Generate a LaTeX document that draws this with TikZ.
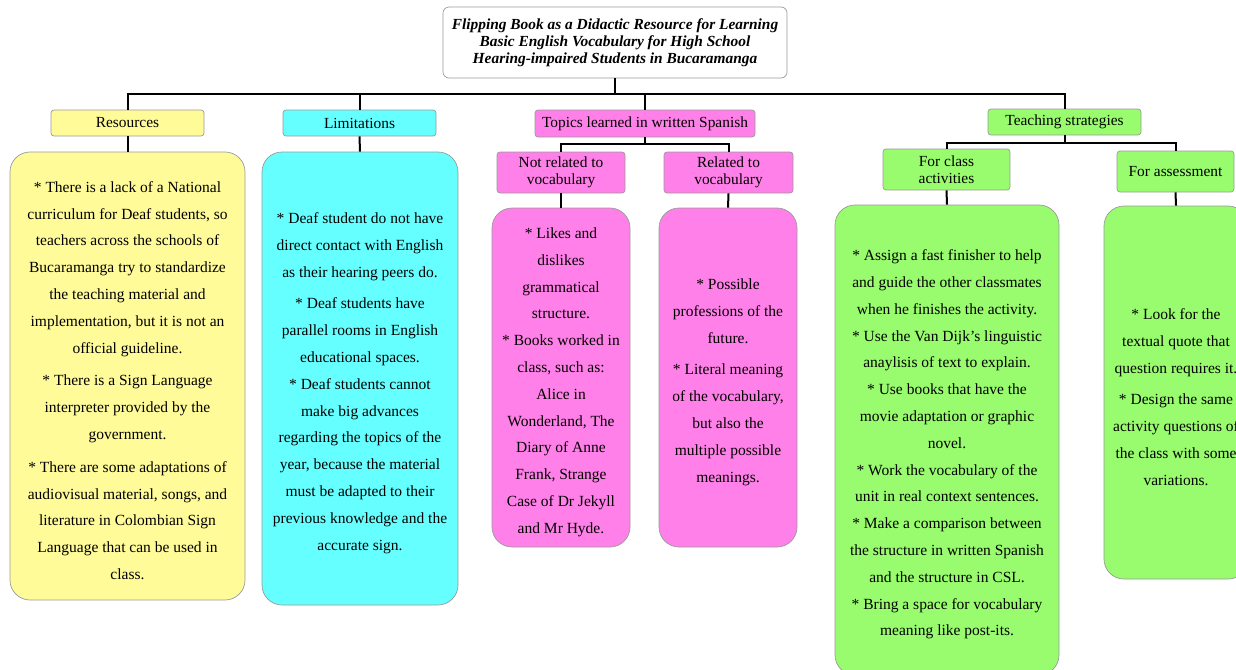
\documentclass[tikz,border=0pt]{standalone}
\usepackage{fontspec}
\setmainfont{Liberation Serif}
\definecolor{resfill}{HTML}{FFFB99}
\definecolor{limfill}{HTML}{66FFFF}
\definecolor{topfill}{HTML}{FF80E8}
\definecolor{teafill}{HTML}{98FC6E}
\definecolor{edge}{HTML}{9A9A9A}
% raises the first line's height so the block sits a little lower in its box
\newcommand{\firstline}{\rule{0pt}{20pt}}
\begin{document}
\begin{tikzpicture}[x=1pt,y=-1pt,
  hbox/.style={draw=edge,line width=0.7pt,rounded corners=3pt,inner sep=1pt,align=center,
    font={\fontsize{15.4}{17}\selectfont}},
  cbox/.style={draw=edge,line width=0.7pt,rounded corners=20pt,inner sep=0pt,align=center,
    font={\fontsize{15.5}{26.8}\selectfont}},
  link/.style={draw=black,line width=2pt}]
\useasboundingbox (0,0) rectangle (1236,669);
\clip (0,0) rectangle (1236,669);

% title
\node[draw=edge,line width=0.7pt,rounded corners=6pt,fill=white,minimum width=344pt,minimum height=71pt,
  align=center,font={\fontsize{15.4}{17}\selectfont\bfseries\itshape}] (title) at (615,42.5)
  {Flipping Book as a Didactic Resource for Learning\\Basic English Vocabulary for High School\\Hearing-impaired Students in Bucaramanga};

% first level headings
\node[hbox,fill=resfill,minimum width=153pt,minimum height=26pt] (res) at (127.5,123) {Resources};
\node[hbox,fill=limfill,minimum width=153pt,minimum height=26pt] (lim) at (359.5,123) {Limitations};
\node[hbox,fill=topfill,minimum width=220pt,minimum height=27pt] (top) at (645,123.5) {Topics learned in written Spanish};
\node[hbox,fill=teafill,minimum width=153pt,minimum height=26pt] (tea) at (1064.5,122) {Teaching strategies};

% second level headings
\node[hbox,fill=topfill,minimum width=128pt,minimum height=41pt] (notrel) at (561,172.5) {Not related to\\vocabulary};
\node[hbox,fill=topfill,minimum width=129pt,minimum height=41pt] (rel) at (728.5,172.5) {Related to\\vocabulary};
\node[hbox,fill=teafill,minimum width=127pt,minimum height=41pt] (cls) at (946.5,169.5) {For class\\activities};
\node[hbox,fill=teafill,minimum width=117pt,minimum height=41pt] (ass) at (1175.5,171.5) {For assessment};

% content boxes
\node[cbox,fill=resfill,minimum width=235pt,minimum height=448pt] (resc) at (127.5,376)
  {\firstline* There is a lack of a National\\curriculum for Deaf students, so\\teachers across the schools of\\Bucaramanga try to standardize\\the teaching material and\\implementation, but it is not an\\official guideline.\\[6pt]
   * There is a Sign Language\\interpreter provided by the\\government.\\[6pt]
   * There are some adaptations of\\audiovisual material, songs, and\\literature in Colombian Sign\\Language that can be used in\\class.};
\node[cbox,fill=limfill,minimum width=196pt,minimum height=453pt] (limc) at (360,378.5)
  {\firstline* Deaf student do not have\\direct contact with English\\as their hearing peers do.\\[5pt]
   * Deaf students have\\parallel rooms in English\\educational spaces.\\
   * Deaf students cannot\\make big advances\\regarding the topics of the\\year, because the material\\must be adapted to their\\previous knowledge and the\\accurate sign.};
\node[cbox,fill=topfill,minimum width=138pt,minimum height=339pt] (notrelc) at (561,377.5)
  {\firstline* Likes and\\dislikes\\grammatical\\structure.\\
   * Books worked in\\class, such as:\\Alice in\\Wonderland, The\\Diary of Anne\\Frank, Strange\\Case of Dr Jekyll\\and Mr Hyde.};
\node[cbox,fill=topfill,minimum width=138pt,minimum height=339pt] (relc) at (728,377.5)
  {\firstline* Possible\\professions of the\\future.\\[5pt]
   * Literal meaning\\of the vocabulary,\\but also the\\multiple possible\\meanings.};
\node[cbox,fill=teafill,minimum width=224pt,minimum height=470pt] (clsc) at (947,440)
  {\firstline* Assign a fast finisher to help\\and guide the other classmates\\when he finishes the activity.\\
   * Use the Van Dijk’s linguistic\\anaylisis of text to explain.\\
   * Use books that have the\\movie adaptation or graphic\\novel.\\
   * Work the vocabulary of the\\unit in real context sentences.\\
   * Make a comparison between\\the structure in written Spanish\\and the structure in CSL.\\
   * Bring a space for vocabulary\\meaning like post-its.};
\node[cbox,fill=teafill,minimum width=144pt,minimum height=373pt] (assc) at (1176,392.5)
  {\firstline* Look for the\\textual quote that\\question requires it.\\[5pt]
   * Design the same\\activity questions of\\the class with some\\variations.};

% connectors
\draw[link] (title.south) -- ++(0,15.5) -| (res.north);
\draw[link] (title.south) -- ++(0,15.5) -| (lim.north);
\draw[link] (title.south) -- ++(0,15.5) -| (top.north);
\draw[link] (title.south) -- ++(0,15.5) -| (tea.north);
\draw[link] (top.south) -- ++(0,7) -| (notrel.north);
\draw[link] (top.south) -- ++(0,7) -| (rel.north);
\draw[link] (tea.south) -- ++(0,8) -| (cls.north);
\draw[link] (tea.south) -- ++(0,8) -| (ass.north);
\draw[link] (res.south) -- (resc.north);
\draw[link] (lim.south) -- (limc.north);
\draw[link] (notrel.south) -- (notrelc.north);
\draw[link] (rel.south) -- (relc.north);
\draw[link] (cls.south) -- (clsc.north);
\draw[link] (ass.south) -- (assc.north);
\end{tikzpicture}
\end{document}
